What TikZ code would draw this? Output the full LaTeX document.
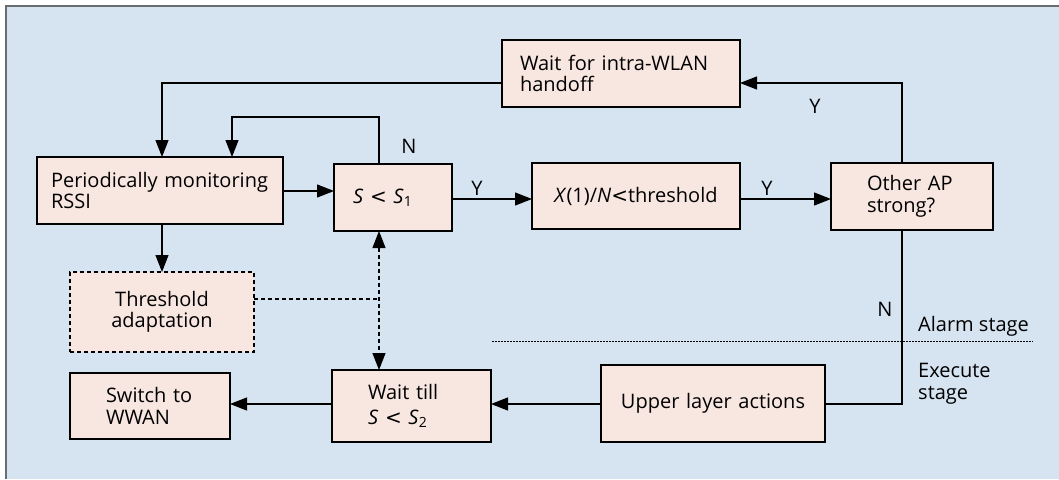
\documentclass[tikz,border=0pt]{standalone}
\usepackage{fontspec}
\setmainfont{Open Sans}
\newfontfamily\dejavu{DejaVu Sans}
\usetikzlibrary{arrows.meta,calc}
\definecolor{bgblue}{RGB}{214,228,241}
\definecolor{boxfill}{RGB}{248,230,224}
\definecolor{framegray}{RGB}{105,108,112}
\newcommand{\lt}{{\dejavu <}}
\tikzset{
  box/.style={draw=black, fill=boxfill, line width=1.3pt, outer sep=0pt, anchor=north west, font=\fontsize{20}{21.5}\selectfont, inner ysep=0pt},
  conn/.style={line width=1.2pt, -{Triangle[length=17pt,width=13pt]}},
  plain/.style={line width=1.2pt},
  lbl/.style={font=\fontsize{20}{21.5}\selectfont, inner sep=0pt},
}
\begin{document}
\begin{tikzpicture}[x=1pt,y=-1pt]
\useasboundingbox (0,0) rectangle (1059,479);
\fill[white] (0,0) rectangle (1059,479);
\fill[bgblue] (6,6) rectangle (1059,479);
\draw[framegray, line width=2pt] (6,479) -- (6,6) -- (1059,6);

% boxes
\node[box, minimum height=67pt, inner xsep=14pt, text width=218pt, align=left] (mon) at (37,157) {Periodically monitoring\\RSSI};
\node[box, minimum height=67pt, inner xsep=19pt, text width=80pt, align=left] (s1) at (334,164) {\textit{S}~\lt~\textit{S}\textsubscript{1}};
\node[box, minimum height=67pt, inner xsep=18pt, text width=202pt, align=left] (wifh) at (502,40) {Wait for intra-WLAN\\handoff};
\node[box, minimum height=66pt, inner xsep=4pt, text width=200pt, align=center] (xn) at (532,163) {\textit{X}(1)/\textit{N}\lt threshold};
\node[box, minimum height=67pt, inner xsep=36pt, text width=90pt, align=left] (oap) at (831,163) {Other AP\\strong?};
\node[box, dash pattern=on 4pt off 3pt, line width=1.1pt, minimum height=80pt, inner xsep=4pt, text width=176pt, align=center] (thr) at (70,272) {Threshold\\adaptation};
\node[box, minimum height=66pt, inner xsep=36pt, text width=88pt, align=left] (sw) at (70,373) {Switch to\\WWAN};
\node[box, minimum height=72pt, inner xsep=36pt, text width=87pt, align=left] (wt) at (332,370) {Wait till\\[3pt]\textit{S}~\lt~\textit{S}\textsubscript{2}};
\node[box, minimum height=77pt, inner xsep=4pt, text width=216pt, align=center] (ula) at (601,365) {Upper layer actions};

% helper coordinates
\coordinate (xa) at (162,0);
\coordinate (xb) at (232,0);
\coordinate (xv) at (379,0);
\coordinate (xo) at (902,0);
\coordinate (ytop) at (0,83);
\coordinate (yn) at (0,117);
\coordinate (ydash) at (0,299);
\coordinate (ylow) at (0,404);
\coordinate (dl) at (492,341);
\coordinate (dr) at (1033,341);

% connectors
\draw[conn] (wifh.west |- ytop) -- (xa |- ytop) -- (xa |- mon.north);
\draw[conn] (xv |- s1.north) -- (xv |- yn) -- (xb |- yn) -- (xb |- mon.north);
\draw[conn] (mon.east |- 0,191) -- (s1.west |- 0,191);
\draw[conn] (s1.east |- 0,199) -- (xn.west |- 0,199);
\draw[conn] (xn.east |- 0,199) -- (oap.west |- 0,199);
\draw[conn] (xo |- oap.north) -- (xo |- ytop) -- (wifh.east |- ytop);
\draw[plain] (xo |- oap.south) -- (xo |- ylow) -- (ula.east |- ylow);
\draw[conn] (ula.west |- ylow) -- (wt.east |- ylow);
\draw[conn] (wt.west |- ylow) -- (sw.east |- ylow);
\draw[conn] (xa |- mon.south) -- (xa |- thr.north);
\draw[line width=1.1pt, dash pattern=on 4pt off 3pt] (thr.east |- ydash) -- (xv |- ydash);
\draw[line width=1.1pt, dash pattern=on 4pt off 3pt, {Triangle[length=17pt,width=13pt]}-{Triangle[length=17pt,width=13pt]}] (xv |- s1.south) -- (xv |- wt.north);
\draw[line width=0.9pt, dash pattern=on 1.5pt off 1.5pt] (dl) -- (dr);

% labels
\node[lbl] (ln1) at (409,146) {N};
\node[lbl] (ly1) at (477,188) {Y};
\node[lbl] (ly2) at (767,188) {Y};
\node[lbl] (ly3) at (815,106) {Y};
\node[lbl] (ln2) at (885,309) {N};
\node[lbl, anchor=west] (alarm) at (918,326) {Alarm stage};
\node[lbl, anchor=west, align=left] (exec) at (918,384) {Execute\\stage};
\end{tikzpicture}
\end{document}
